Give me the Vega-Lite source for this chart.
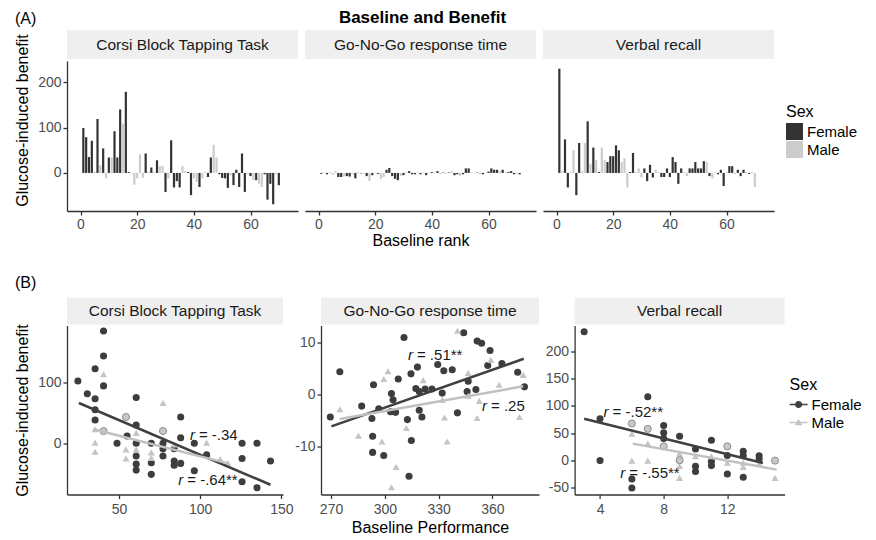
{
"$schema": "https://vega.github.io/schema/vega-lite/v6.json",
"autosize": {"type": "none"},
"padding": {"left": 67, "top": 30, "right": 809, "bottom": 510},
"background": "#ffffff",
"config": {
  "font": "Liberation Sans",
  "view": {"stroke": null},
  "axis": {"grid": false, "domainColor": "#333333", "domainWidth": 1.3, "tickColor": "#333333", "tickWidth": 1.3, "tickSize": 4, "labelFontSize": 14, "labelColor": "#4d4d4d", "labelPadding": 2, "titleFontSize": 16, "titleFontWeight": "normal", "titleColor": "#000000", "labelExpr": "'' + datum.value"},
  "legend": {"titleFontSize": 16, "titleFontWeight": "normal", "titleColor": "#000000", "labelFontSize": 15, "labelColor": "#000000"},
  "title": {"color": "#000000"}
},
"datasets": {
  "strips": [
    {"id":"A1","label":"Corsi Block Tapping Task"},{"id":"A2","label":"Go-No-Go response time"},{"id":"A3","label":"Verbal recall"},
    {"id":"B1","label":"Corsi Block Tapping Task"},{"id":"B2","label":"Go-No-Go response time"},{"id":"B3","label":"Verbal recall"}
  ],
  "bars": [
    {"task":"Corsi","rank":1,"benefit":99,"sex":"Female"},{"task":"Corsi","rank":2,"benefit":79,"sex":"Female"},{"task":"Corsi","rank":3,"benefit":35,"sex":"Female"},{"task":"Corsi","rank":4,"benefit":71,"sex":"Female"},{"task":"Corsi","rank":5,"benefit":3,"sex":"Male"},{"task":"Corsi","rank":6,"benefit":119,"sex":"Female"},{"task":"Corsi","rank":7,"benefit":17,"sex":"Male"},{"task":"Corsi","rank":8,"benefit":54,"sex":"Female"},{"task":"Corsi","rank":9,"benefit":-12,"sex":"Male"},{"task":"Corsi","rank":10,"benefit":34,"sex":"Female"},
    {"task":"Corsi","rank":11,"benefit":34,"sex":"Male"},{"task":"Corsi","rank":12,"benefit":92,"sex":"Female"},{"task":"Corsi","rank":13,"benefit":34,"sex":"Female"},{"task":"Corsi","rank":14,"benefit":140,"sex":"Female"},{"task":"Corsi","rank":15,"benefit":109,"sex":"Male"},{"task":"Corsi","rank":16,"benefit":179,"sex":"Female"},{"task":"Corsi","rank":17,"benefit":2,"sex":"Female"},{"task":"Corsi","rank":18,"benefit":-2,"sex":"Male"},{"task":"Corsi","rank":19,"benefit":-26,"sex":"Male"},{"task":"Corsi","rank":20,"benefit":-12,"sex":"Male"},
    {"task":"Corsi","rank":21,"benefit":41,"sex":"Male"},{"task":"Corsi","rank":22,"benefit":-11,"sex":"Male"},{"task":"Corsi","rank":23,"benefit":43,"sex":"Female"},{"task":"Corsi","rank":24,"benefit":3,"sex":"Male"},{"task":"Corsi","rank":25,"benefit":12,"sex":"Female"},{"task":"Corsi","rank":26,"benefit":2,"sex":"Male"},{"task":"Corsi","rank":27,"benefit":28,"sex":"Female"},{"task":"Corsi","rank":28,"benefit":15,"sex":"Male"},{"task":"Corsi","rank":29,"benefit":15,"sex":"Male"},{"task":"Corsi","rank":30,"benefit":-42,"sex":"Female"},
    {"task":"Corsi","rank":31,"benefit":-12,"sex":"Male"},{"task":"Corsi","rank":32,"benefit":72,"sex":"Female"},{"task":"Corsi","rank":33,"benefit":-32,"sex":"Female"},{"task":"Corsi","rank":34,"benefit":-18,"sex":"Female"},{"task":"Corsi","rank":35,"benefit":-32,"sex":"Female"},{"task":"Corsi","rank":36,"benefit":15,"sex":"Male"},{"task":"Corsi","rank":37,"benefit":4,"sex":"Male"},{"task":"Corsi","rank":38,"benefit":2,"sex":"Female"},{"task":"Corsi","rank":39,"benefit":-49,"sex":"Female"},{"task":"Corsi","rank":40,"benefit":-12,"sex":"Male"},
    {"task":"Corsi","rank":41,"benefit":-20,"sex":"Male"},{"task":"Corsi","rank":42,"benefit":-31,"sex":"Female"},{"task":"Corsi","rank":43,"benefit":-12,"sex":"Male"},{"task":"Corsi","rank":44,"benefit":2,"sex":"Male"},{"task":"Corsi","rank":45,"benefit":-9,"sex":"Female"},{"task":"Corsi","rank":46,"benefit":34,"sex":"Female"},{"task":"Corsi","rank":47,"benefit":62,"sex":"Male"},{"task":"Corsi","rank":48,"benefit":34,"sex":"Male"},{"task":"Corsi","rank":49,"benefit":-3,"sex":"Female"},{"task":"Corsi","rank":50,"benefit":-11,"sex":"Female"},
    {"task":"Corsi","rank":51,"benefit":-12,"sex":"Female"},{"task":"Corsi","rank":52,"benefit":-33,"sex":"Female"},{"task":"Corsi","rank":53,"benefit":-5,"sex":"Male"},{"task":"Corsi","rank":54,"benefit":-27,"sex":"Female"},{"task":"Corsi","rank":55,"benefit":7,"sex":"Female"},{"task":"Corsi","rank":56,"benefit":-31,"sex":"Female"},{"task":"Corsi","rank":57,"benefit":43,"sex":"Female"},{"task":"Corsi","rank":58,"benefit":-42,"sex":"Female"},{"task":"Corsi","rank":59,"benefit":-3,"sex":"Male"},{"task":"Corsi","rank":60,"benefit":-7,"sex":"Female"},
    {"task":"Corsi","rank":61,"benefit":-16,"sex":"Male"},{"task":"Corsi","rank":62,"benefit":-16,"sex":"Female"},{"task":"Corsi","rank":63,"benefit":-24,"sex":"Male"},{"task":"Corsi","rank":64,"benefit":-31,"sex":"Male"},{"task":"Corsi","rank":65,"benefit":-3,"sex":"Female"},{"task":"Corsi","rank":66,"benefit":-59,"sex":"Female"},{"task":"Corsi","rank":67,"benefit":-24,"sex":"Female"},{"task":"Corsi","rank":68,"benefit":-69,"sex":"Female"},{"task":"Corsi","rank":69,"benefit":-3,"sex":"Male"},{"task":"Corsi","rank":70,"benefit":-27,"sex":"Female"},
    {"task":"GoNoGo","rank":1,"benefit":-2,"sex":"Female"},{"task":"GoNoGo","rank":2,"benefit":1,"sex":"Male"},{"task":"GoNoGo","rank":3,"benefit":-3,"sex":"Female"},{"task":"GoNoGo","rank":4,"benefit":2,"sex":"Male"},{"task":"GoNoGo","rank":5,"benefit":-4,"sex":"Male"},{"task":"GoNoGo","rank":6,"benefit":4,"sex":"Male"},{"task":"GoNoGo","rank":7,"benefit":-9,"sex":"Female"},{"task":"GoNoGo","rank":8,"benefit":-9,"sex":"Female"},{"task":"GoNoGo","rank":9,"benefit":-8,"sex":"Male"},{"task":"GoNoGo","rank":10,"benefit":-7,"sex":"Female"},
    {"task":"GoNoGo","rank":11,"benefit":-8,"sex":"Female"},{"task":"GoNoGo","rank":12,"benefit":-3,"sex":"Male"},{"task":"GoNoGo","rank":13,"benefit":-12,"sex":"Female"},{"task":"GoNoGo","rank":14,"benefit":2,"sex":"Male"},{"task":"GoNoGo","rank":15,"benefit":-1,"sex":"Female"},{"task":"GoNoGo","rank":16,"benefit":-2,"sex":"Male"},{"task":"GoNoGo","rank":17,"benefit":-7,"sex":"Female"},{"task":"GoNoGo","rank":18,"benefit":-18,"sex":"Male"},{"task":"GoNoGo","rank":19,"benefit":-5,"sex":"Female"},{"task":"GoNoGo","rank":20,"benefit":1,"sex":"Male"},
    {"task":"GoNoGo","rank":21,"benefit":-2,"sex":"Female"},{"task":"GoNoGo","rank":22,"benefit":-13,"sex":"Male"},{"task":"GoNoGo","rank":23,"benefit":-9,"sex":"Male"},{"task":"GoNoGo","rank":24,"benefit":7,"sex":"Female"},{"task":"GoNoGo","rank":25,"benefit":11,"sex":"Female"},{"task":"GoNoGo","rank":26,"benefit":-7,"sex":"Female"},{"task":"GoNoGo","rank":27,"benefit":-13,"sex":"Female"},{"task":"GoNoGo","rank":28,"benefit":-16,"sex":"Female"},{"task":"GoNoGo","rank":29,"benefit":-7,"sex":"Male"},{"task":"GoNoGo","rank":30,"benefit":-5,"sex":"Female"},
    {"task":"GoNoGo","rank":31,"benefit":2,"sex":"Male"},{"task":"GoNoGo","rank":32,"benefit":4,"sex":"Female"},{"task":"GoNoGo","rank":33,"benefit":-3,"sex":"Female"},{"task":"GoNoGo","rank":34,"benefit":-3,"sex":"Female"},{"task":"GoNoGo","rank":35,"benefit":1,"sex":"Male"},{"task":"GoNoGo","rank":36,"benefit":-3,"sex":"Female"},{"task":"GoNoGo","rank":37,"benefit":1,"sex":"Male"},{"task":"GoNoGo","rank":38,"benefit":-5,"sex":"Female"},{"task":"GoNoGo","rank":39,"benefit":1,"sex":"Male"},{"task":"GoNoGo","rank":40,"benefit":2,"sex":"Female"},
    {"task":"GoNoGo","rank":41,"benefit":-1,"sex":"Male"},{"task":"GoNoGo","rank":42,"benefit":4,"sex":"Female"},{"task":"GoNoGo","rank":43,"benefit":-3,"sex":"Male"},{"task":"GoNoGo","rank":44,"benefit":1,"sex":"Female"},{"task":"GoNoGo","rank":45,"benefit":-2,"sex":"Male"},{"task":"GoNoGo","rank":46,"benefit":1,"sex":"Female"},{"task":"GoNoGo","rank":47,"benefit":4,"sex":"Male"},{"task":"GoNoGo","rank":48,"benefit":-5,"sex":"Female"},{"task":"GoNoGo","rank":49,"benefit":-3,"sex":"Female"},{"task":"GoNoGo","rank":50,"benefit":-7,"sex":"Male"},
    {"task":"GoNoGo","rank":51,"benefit":-3,"sex":"Female"},{"task":"GoNoGo","rank":52,"benefit":10,"sex":"Female"},{"task":"GoNoGo","rank":53,"benefit":10,"sex":"Female"},{"task":"GoNoGo","rank":54,"benefit":1,"sex":"Male"},{"task":"GoNoGo","rank":55,"benefit":-1,"sex":"Male"},{"task":"GoNoGo","rank":56,"benefit":1,"sex":"Female"},{"task":"GoNoGo","rank":57,"benefit":-3,"sex":"Male"},{"task":"GoNoGo","rank":58,"benefit":-3,"sex":"Female"},{"task":"GoNoGo","rank":59,"benefit":1,"sex":"Male"},{"task":"GoNoGo","rank":60,"benefit":3,"sex":"Female"},
    {"task":"GoNoGo","rank":61,"benefit":10,"sex":"Female"},{"task":"GoNoGo","rank":62,"benefit":7,"sex":"Female"},{"task":"GoNoGo","rank":63,"benefit":7,"sex":"Female"},{"task":"GoNoGo","rank":64,"benefit":4,"sex":"Male"},{"task":"GoNoGo","rank":65,"benefit":7,"sex":"Female"},{"task":"GoNoGo","rank":66,"benefit":1,"sex":"Male"},{"task":"GoNoGo","rank":67,"benefit":2,"sex":"Female"},{"task":"GoNoGo","rank":68,"benefit":4,"sex":"Female"},{"task":"GoNoGo","rank":69,"benefit":-3,"sex":"Female"},{"task":"GoNoGo","rank":70,"benefit":-2,"sex":"Male"},{"task":"GoNoGo","rank":71,"benefit":-3,"sex":"Female"},
    {"task":"Verbal","rank":1,"benefit":230,"sex":"Female"},{"task":"Verbal","rank":2,"benefit":3,"sex":"Male"},{"task":"Verbal","rank":3,"benefit":74,"sex":"Female"},{"task":"Verbal","rank":4,"benefit":-32,"sex":"Female"},{"task":"Verbal","rank":5,"benefit":2,"sex":"Male"},{"task":"Verbal","rank":6,"benefit":50,"sex":"Male"},{"task":"Verbal","rank":7,"benefit":-49,"sex":"Female"},{"task":"Verbal","rank":8,"benefit":66,"sex":"Female"},{"task":"Verbal","rank":9,"benefit":3,"sex":"Male"},{"task":"Verbal","rank":10,"benefit":66,"sex":"Male"},
    {"task":"Verbal","rank":11,"benefit":114,"sex":"Female"},{"task":"Verbal","rank":12,"benefit":20,"sex":"Male"},{"task":"Verbal","rank":13,"benefit":56,"sex":"Female"},{"task":"Verbal","rank":14,"benefit":28,"sex":"Male"},{"task":"Verbal","rank":15,"benefit":2,"sex":"Female"},{"task":"Verbal","rank":16,"benefit":56,"sex":"Male"},{"task":"Verbal","rank":17,"benefit":28,"sex":"Male"},{"task":"Verbal","rank":18,"benefit":24,"sex":"Female"},{"task":"Verbal","rank":19,"benefit":37,"sex":"Female"},{"task":"Verbal","rank":20,"benefit":37,"sex":"Female"},
    {"task":"Verbal","rank":21,"benefit":61,"sex":"Female"},{"task":"Verbal","rank":22,"benefit":50,"sex":"Female"},{"task":"Verbal","rank":23,"benefit":24,"sex":"Male"},{"task":"Verbal","rank":24,"benefit":33,"sex":"Male"},{"task":"Verbal","rank":25,"benefit":-32,"sex":"Male"},{"task":"Verbal","rank":26,"benefit":2,"sex":"Female"},{"task":"Verbal","rank":27,"benefit":44,"sex":"Female"},{"task":"Verbal","rank":28,"benefit":2,"sex":"Male"},{"task":"Verbal","rank":29,"benefit":10,"sex":"Male"},{"task":"Verbal","rank":30,"benefit":-10,"sex":"Male"},
    {"task":"Verbal","rank":31,"benefit":10,"sex":"Female"},{"task":"Verbal","rank":32,"benefit":-18,"sex":"Female"},{"task":"Verbal","rank":33,"benefit":18,"sex":"Female"},{"task":"Verbal","rank":34,"benefit":-10,"sex":"Female"},{"task":"Verbal","rank":35,"benefit":7,"sex":"Male"},{"task":"Verbal","rank":36,"benefit":2,"sex":"Male"},{"task":"Verbal","rank":37,"benefit":-9,"sex":"Female"},{"task":"Verbal","rank":38,"benefit":-9,"sex":"Female"},{"task":"Verbal","rank":39,"benefit":10,"sex":"Female"},{"task":"Verbal","rank":40,"benefit":-9,"sex":"Female"},
    {"task":"Verbal","rank":41,"benefit":35,"sex":"Female"},{"task":"Verbal","rank":42,"benefit":24,"sex":"Female"},{"task":"Verbal","rank":43,"benefit":-24,"sex":"Female"},{"task":"Verbal","rank":44,"benefit":10,"sex":"Female"},{"task":"Verbal","rank":45,"benefit":2,"sex":"Male"},{"task":"Verbal","rank":46,"benefit":-7,"sex":"Male"},{"task":"Verbal","rank":47,"benefit":10,"sex":"Female"},{"task":"Verbal","rank":48,"benefit":10,"sex":"Female"},{"task":"Verbal","rank":49,"benefit":24,"sex":"Female"},{"task":"Verbal","rank":50,"benefit":10,"sex":"Female"},
    {"task":"Verbal","rank":51,"benefit":10,"sex":"Female"},{"task":"Verbal","rank":52,"benefit":26,"sex":"Female"},{"task":"Verbal","rank":53,"benefit":24,"sex":"Male"},{"task":"Verbal","rank":54,"benefit":-7,"sex":"Female"},{"task":"Verbal","rank":55,"benefit":-12,"sex":"Male"},{"task":"Verbal","rank":56,"benefit":2,"sex":"Male"},{"task":"Verbal","rank":57,"benefit":-3,"sex":"Female"},{"task":"Verbal","rank":58,"benefit":7,"sex":"Female"},{"task":"Verbal","rank":59,"benefit":-29,"sex":"Female"},{"task":"Verbal","rank":60,"benefit":2,"sex":"Male"},
    {"task":"Verbal","rank":61,"benefit":15,"sex":"Female"},{"task":"Verbal","rank":62,"benefit":15,"sex":"Female"},{"task":"Verbal","rank":63,"benefit":-3,"sex":"Male"},{"task":"Verbal","rank":64,"benefit":7,"sex":"Female"},{"task":"Verbal","rank":65,"benefit":-7,"sex":"Female"},{"task":"Verbal","rank":66,"benefit":7,"sex":"Female"},{"task":"Verbal","rank":67,"benefit":2,"sex":"Male"},{"task":"Verbal","rank":68,"benefit":-2,"sex":"Female"},{"task":"Verbal","rank":69,"benefit":2,"sex":"Male"},{"task":"Verbal","rank":70,"benefit":-31,"sex":"Male"}
  ],
  "points": [
    {"task":"Corsi","baseline":24.7,"benefit":102,"sex":"Female"},{"task":"Corsi","baseline":30.5,"benefit":81,"sex":"Female"},{"task":"Corsi","baseline":35.3,"benefit":73,"sex":"Female"},{"task":"Corsi","baseline":35.3,"benefit":55,"sex":"Female"},{"task":"Corsi","baseline":35.3,"benefit":38,"sex":"Female"},{"task":"Corsi","baseline":35.3,"benefit":122,"sex":"Female"},{"task":"Corsi","baseline":40.5,"benefit":184,"sex":"Female"},{"task":"Corsi","baseline":40.5,"benefit":143,"sex":"Female"},{"task":"Corsi","baseline":40.5,"benefit":94,"sex":"Female"},{"task":"Corsi","baseline":60.6,"benefit":75,"sex":"Female"},
    {"task":"Corsi","baseline":60.6,"benefit":30,"sex":"Female"},{"task":"Corsi","baseline":60.6,"benefit":0,"sex":"Female"},{"task":"Corsi","baseline":60.6,"benefit":-21,"sex":"Female"},{"task":"Corsi","baseline":60.6,"benefit":-34,"sex":"Female"},{"task":"Corsi","baseline":60.6,"benefit":-44,"sex":"Female"},{"task":"Corsi","baseline":48.8,"benefit":0,"sex":"Female"},{"task":"Corsi","baseline":55,"benefit":12,"sex":"Female"},{"task":"Corsi","baseline":69.9,"benefit":0,"sex":"Female"},{"task":"Corsi","baseline":69.9,"benefit":-32,"sex":"Female"},{"task":"Corsi","baseline":69.9,"benefit":-51,"sex":"Female"},
    {"task":"Corsi","baseline":77.1,"benefit":-9,"sex":"Female"},{"task":"Corsi","baseline":77.1,"benefit":-21,"sex":"Female"},{"task":"Corsi","baseline":77.1,"benefit":0,"sex":"Female"},{"task":"Corsi","baseline":84,"benefit":-9,"sex":"Female"},{"task":"Corsi","baseline":84,"benefit":-29,"sex":"Female"},{"task":"Corsi","baseline":84,"benefit":-36,"sex":"Female"},{"task":"Corsi","baseline":88,"benefit":43,"sex":"Female"},{"task":"Corsi","baseline":88,"benefit":9,"sex":"Female"},{"task":"Corsi","baseline":88,"benefit":-33,"sex":"Female"},{"task":"Corsi","baseline":96.4,"benefit":0,"sex":"Female"},
    {"task":"Corsi","baseline":96.4,"benefit":-45,"sex":"Female"},{"task":"Corsi","baseline":104,"benefit":-19,"sex":"Female"},{"task":"Corsi","baseline":125.8,"benefit":0,"sex":"Female"},{"task":"Corsi","baseline":125.8,"benefit":-25,"sex":"Female"},{"task":"Corsi","baseline":125.8,"benefit":-63,"sex":"Female"},{"task":"Corsi","baseline":135,"benefit":0,"sex":"Female"},{"task":"Corsi","baseline":135,"benefit":-73,"sex":"Female"},{"task":"Corsi","baseline":143.3,"benefit":-29,"sex":"Female"},
    {"task":"Corsi","baseline":40.5,"benefit":113,"sex":"Male"},{"task":"Corsi","baseline":35.3,"benefit":23,"sex":"Male"},{"task":"Corsi","baseline":35.3,"benefit":1,"sex":"Male"},{"task":"Corsi","baseline":35.3,"benefit":-14,"sex":"Male"},{"task":"Corsi","baseline":54.3,"benefit":-10,"sex":"Male"},{"task":"Corsi","baseline":54.3,"benefit":-25,"sex":"Male"},{"task":"Corsi","baseline":60.6,"benefit":17,"sex":"Male"},{"task":"Corsi","baseline":60.6,"benefit":-10,"sex":"Male"},{"task":"Corsi","baseline":69.9,"benefit":-15,"sex":"Male"},{"task":"Corsi","baseline":69.9,"benefit":-24,"sex":"Male"},
    {"task":"Corsi","baseline":77.1,"benefit":66,"sex":"Male"},{"task":"Corsi","baseline":84.3,"benefit":-2,"sex":"Male"},{"task":"Corsi","baseline":104,"benefit":1,"sex":"Male"},{"task":"Corsi","baseline":112.3,"benefit":-26,"sex":"Male"},{"task":"Corsi","baseline":117,"benefit":-32,"sex":"Male"},
    {"task":"Corsi","baseline":54.3,"benefit":43,"sex":"Male","ov":true},{"task":"Corsi","baseline":40.5,"benefit":20,"sex":"Male","ov":true},{"task":"Corsi","baseline":77.1,"benefit":20,"sex":"Male","ov":true},
    {"task":"GoNoGo","baseline":269.6,"benefit":-4.3,"sex":"Female"},{"task":"GoNoGo","baseline":287.1,"benefit":-2.2,"sex":"Female"},{"task":"GoNoGo","baseline":274.9,"benefit":4.4,"sex":"Female"},{"task":"GoNoGo","baseline":292.8,"benefit":-4.6,"sex":"Female"},{"task":"GoNoGo","baseline":293.7,"benefit":1.9,"sex":"Female"},{"task":"GoNoGo","baseline":293.2,"benefit":-8.0,"sex":"Female"},{"task":"GoNoGo","baseline":293.2,"benefit":-11.1,"sex":"Female"},{"task":"GoNoGo","baseline":296.6,"benefit":-2.7,"sex":"Female"},{"task":"GoNoGo","baseline":299.4,"benefit":-11.7,"sex":"Female"},{"task":"GoNoGo","baseline":303.2,"benefit":-3.3,"sex":"Female"},
    {"task":"GoNoGo","baseline":303.7,"benefit":0.2,"sex":"Female"},{"task":"GoNoGo","baseline":304.6,"benefit":-1.0,"sex":"Female"},{"task":"GoNoGo","baseline":306.0,"benefit":-3.4,"sex":"Female"},{"task":"GoNoGo","baseline":307.5,"benefit":3.0,"sex":"Female"},{"task":"GoNoGo","baseline":310.7,"benefit":11.0,"sex":"Female"},{"task":"GoNoGo","baseline":312.6,"benefit":-4.8,"sex":"Female"},{"task":"GoNoGo","baseline":313.5,"benefit":-15.7,"sex":"Female"},{"task":"GoNoGo","baseline":314.6,"benefit":4.0,"sex":"Female"},{"task":"GoNoGo","baseline":314.8,"benefit":-8.8,"sex":"Female"},{"task":"GoNoGo","baseline":317.3,"benefit":1.2,"sex":"Female"},
    {"task":"GoNoGo","baseline":318.2,"benefit":5.3,"sex":"Female"},{"task":"GoNoGo","baseline":319.2,"benefit":0.6,"sex":"Female"},{"task":"GoNoGo","baseline":319.2,"benefit":-3.0,"sex":"Female"},{"task":"GoNoGo","baseline":320.7,"benefit":-4.3,"sex":"Female"},{"task":"GoNoGo","baseline":322.5,"benefit":1.1,"sex":"Female"},{"task":"GoNoGo","baseline":326.3,"benefit":1.1,"sex":"Female"},{"task":"GoNoGo","baseline":329.5,"benefit":5.8,"sex":"Female"},{"task":"GoNoGo","baseline":332.0,"benefit":0.3,"sex":"Female"},{"task":"GoNoGo","baseline":332.9,"benefit":4.6,"sex":"Female"},{"task":"GoNoGo","baseline":337.6,"benefit":4.8,"sex":"Female"},
    {"task":"GoNoGo","baseline":340.5,"benefit":-3.5,"sex":"Female"},{"task":"GoNoGo","baseline":344.0,"benefit":11.9,"sex":"Female"},{"task":"GoNoGo","baseline":346.5,"benefit":2.6,"sex":"Female"},{"task":"GoNoGo","baseline":345.9,"benefit":0.6,"sex":"Female"},{"task":"GoNoGo","baseline":350.8,"benefit":1.0,"sex":"Female"},{"task":"GoNoGo","baseline":351.5,"benefit":10.3,"sex":"Female"},{"task":"GoNoGo","baseline":354.0,"benefit":9.9,"sex":"Female"},{"task":"GoNoGo","baseline":358.7,"benefit":8.5,"sex":"Female"},{"task":"GoNoGo","baseline":357.4,"benefit":5.6,"sex":"Female"},{"task":"GoNoGo","baseline":365.3,"benefit":6.0,"sex":"Female"},
    {"task":"GoNoGo","baseline":374.1,"benefit":4.3,"sex":"Female"},{"task":"GoNoGo","baseline":377.9,"benefit":1.5,"sex":"Female"},
    {"task":"GoNoGo","baseline":274.9,"benefit":-2.8,"sex":"Male"},{"task":"GoNoGo","baseline":285.3,"benefit":-7.9,"sex":"Male"},{"task":"GoNoGo","baseline":298.4,"benefit":-9.0,"sex":"Male"},{"task":"GoNoGo","baseline":299.4,"benefit":3.0,"sex":"Male"},{"task":"GoNoGo","baseline":301.8,"benefit":4.5,"sex":"Male"},{"task":"GoNoGo","baseline":303.7,"benefit":-17.8,"sex":"Male"},{"task":"GoNoGo","baseline":306.3,"benefit":-13.9,"sex":"Male"},{"task":"GoNoGo","baseline":312.0,"benefit":-6.4,"sex":"Male"},{"task":"GoNoGo","baseline":321.4,"benefit":2.8,"sex":"Male"},{"task":"GoNoGo","baseline":332.0,"benefit":-1.0,"sex":"Male"},
    {"task":"GoNoGo","baseline":333.3,"benefit":-4.4,"sex":"Male"},{"task":"GoNoGo","baseline":334.8,"benefit":-9.0,"sex":"Male"},{"task":"GoNoGo","baseline":340.5,"benefit":12.3,"sex":"Male"},{"task":"GoNoGo","baseline":346.5,"benefit":4.2,"sex":"Male"},{"task":"GoNoGo","baseline":346.5,"benefit":-0.2,"sex":"Male"},{"task":"GoNoGo","baseline":352.7,"benefit":-1.2,"sex":"Male"},{"task":"GoNoGo","baseline":351.5,"benefit":-4.5,"sex":"Male"},{"task":"GoNoGo","baseline":359.1,"benefit":6.7,"sex":"Male"},{"task":"GoNoGo","baseline":363.8,"benefit":1.9,"sex":"Male"},{"task":"GoNoGo","baseline":377.2,"benefit":3.8,"sex":"Male"},
    {"task":"GoNoGo","baseline":375.1,"benefit":-4.3,"sex":"Male"},
    {"task":"Verbal","baseline":3,"benefit":235.7,"sex":"Female"},{"task":"Verbal","baseline":4,"benefit":76.4,"sex":"Female"},{"task":"Verbal","baseline":4,"benefit":0,"sex":"Female"},{"task":"Verbal","baseline":6,"benefit":-33.6,"sex":"Female"},{"task":"Verbal","baseline":6,"benefit":-50,"sex":"Female"},{"task":"Verbal","baseline":7,"benefit":116.6,"sex":"Female"},{"task":"Verbal","baseline":8,"benefit":64,"sex":"Female"},{"task":"Verbal","baseline":8,"benefit":50.7,"sex":"Female"},{"task":"Verbal","baseline":8,"benefit":40.3,"sex":"Female"},{"task":"Verbal","baseline":9,"benefit":44.6,"sex":"Female"},
    {"task":"Verbal","baseline":10,"benefit":21.3,"sex":"Female"},{"task":"Verbal","baseline":10,"benefit":-10.4,"sex":"Female"},{"task":"Verbal","baseline":10,"benefit":-20,"sex":"Female"},{"task":"Verbal","baseline":11,"benefit":37.2,"sex":"Female"},{"task":"Verbal","baseline":11,"benefit":-1.2,"sex":"Female"},{"task":"Verbal","baseline":11,"benefit":-9.2,"sex":"Female"},{"task":"Verbal","baseline":12,"benefit":9.2,"sex":"Female"},{"task":"Verbal","baseline":12,"benefit":-24.4,"sex":"Female"},{"task":"Verbal","baseline":13,"benefit":17,"sex":"Female"},{"task":"Verbal","baseline":13,"benefit":9,"sex":"Female"},
    {"task":"Verbal","baseline":13,"benefit":-30.5,"sex":"Female"},{"task":"Verbal","baseline":14,"benefit":9,"sex":"Female"},{"task":"Verbal","baseline":14,"benefit":3,"sex":"Female"},
    {"task":"Verbal","baseline":6,"benefit":49,"sex":"Male"},{"task":"Verbal","baseline":6,"benefit":0,"sex":"Male"},{"task":"Verbal","baseline":7,"benefit":31,"sex":"Male"},{"task":"Verbal","baseline":7,"benefit":0,"sex":"Male"},{"task":"Verbal","baseline":8,"benefit":27,"sex":"Male"},{"task":"Verbal","baseline":9,"benefit":12.8,"sex":"Male"},{"task":"Verbal","baseline":9,"benefit":-10,"sex":"Male"},{"task":"Verbal","baseline":9,"benefit":-31.7,"sex":"Male"},{"task":"Verbal","baseline":10,"benefit":8,"sex":"Male"},{"task":"Verbal","baseline":11,"benefit":8,"sex":"Male"},
    {"task":"Verbal","baseline":12,"benefit":-4,"sex":"Male"},{"task":"Verbal","baseline":13,"benefit":-4,"sex":"Male"},{"task":"Verbal","baseline":13,"benefit":-11.6,"sex":"Male"},{"task":"Verbal","baseline":14,"benefit":-5.5,"sex":"Male"},{"task":"Verbal","baseline":15,"benefit":-31.7,"sex":"Male"},
    {"task":"Verbal","baseline":6,"benefit":67.8,"sex":"Male","ov":true},{"task":"Verbal","baseline":7,"benefit":58,"sex":"Male","ov":true},{"task":"Verbal","baseline":8,"benefit":26,"sex":"Male","ov":true},{"task":"Verbal","baseline":9,"benefit":0.6,"sex":"Male","ov":true},{"task":"Verbal","baseline":12,"benefit":26,"sex":"Male","ov":true},{"task":"Verbal","baseline":15,"benefit":0,"sex":"Male","ov":true}
  ],
  "fits": [
    {"task":"Corsi","sex":"Female","baseline":25.3,"benefit":66},{"task":"Corsi","sex":"Female","baseline":143.3,"benefit":-68},
    {"task":"Corsi","sex":"Male","baseline":34.3,"benefit":23},{"task":"Corsi","sex":"Male","baseline":117,"benefit":-33},
    {"task":"GoNoGo","sex":"Female","baseline":270.2,"benefit":-6.1},{"task":"GoNoGo","sex":"Female","baseline":377.5,"benefit":6.9},
    {"task":"GoNoGo","sex":"Male","baseline":274.9,"benefit":-4.7},{"task":"GoNoGo","sex":"Male","baseline":377.2,"benefit":1.6},
    {"task":"Verbal","sex":"Female","baseline":3.0,"benefit":76.4},{"task":"Verbal","sex":"Female","baseline":14.24,"benefit":-4.3},
    {"task":"Verbal","sex":"Male","baseline":6.05,"benefit":31},{"task":"Verbal","sex":"Male","baseline":15.1,"benefit":-16.5}
  ],
  "labels": [
    {"task":"Corsi","baseline":98,"benefit":14.3,"stat":"= -.34"},
    {"task":"Corsi","baseline":90.8,"benefit":-59.5,"stat":"= -.64**"},
    {"task":"GoNoGo","baseline":316.8,"benefit":7.7,"stat":"= .51**"},
    {"task":"GoNoGo","baseline":358.1,"benefit":-2.2,"stat":"= .25"},
    {"task":"Verbal","baseline":4.66,"benefit":88.5,"stat":"= -.52**"},
    {"task":"Verbal","baseline":5.71,"benefit":-22.3,"stat":"= -.55**"}
  ]
},
"spacing": 26.5,
"resolve": {"scale": {"x": "independent", "y": "independent", "color": "independent", "shape": "independent"}, "axis": {"x": "independent", "y": "independent"}, "legend": {"color": "independent", "shape": "independent"}},
"vconcat": [
  {
    "spacing": 7,
    "resolve": {"scale": {"x": "independent", "y": "independent", "color": "independent", "shape": "independent"}, "axis": {"x": "independent", "y": "independent"}, "legend": {"color": "independent", "shape": "independent"}},
    "hconcat": [
      {
        "bounds": "flush", "spacing": 2,
        "resolve": {"scale": {"x": "independent", "y": "independent", "color": "independent"}, "axis": {"x": "independent", "y": "independent"}, "legend": {"color": "independent"}},
        "vconcat": [
          {
            "title": {"text": "(A)", "anchor": "start", "frame": "group", "dx": -52, "dy": 17, "offset": 12.5, "baseline": "middle", "fontSize": 16, "fontWeight": "normal"},
            "data": {"name": "strips"}, "transform": [{"filter": "datum.id === 'A1'"}],
            "width": 231, "height": 29,
            "view": {"fill": "#efefef", "stroke": null},
            "mark": {"type": "text", "align": "center", "baseline": "middle", "fontSize": 15.5, "color": "#1a1a1a"},
            "encoding": {"text": {"field": "label"}, "x": {"datum": 0.5, "type": "quantitative", "scale": {"domain": [0, 1]}, "axis": null}, "y": {"datum": 0.5, "type": "quantitative", "scale": {"domain": [0, 1]}, "axis": null}}
          },
          {
            "data": {"name": "bars"},
            "transform": [{"filter": "datum.task === 'Corsi'"}],
            "width": 231, "height": 150,
            "mark": {"type": "bar", "width": 2.2, "orient": "vertical"},
            "encoding": {
              "x": {"field": "rank", "type": "quantitative", "scale": {"domain": [-3, 75], "nice": false, "zero": false}, "axis": {"values": [0, 20, 40, 60], "title": null}},
              "y": {"field": "benefit", "type": "quantitative", "scale": {"domain": [-84, 247], "nice": false, "zero": false}, "axis": {"values": [0, 100, 200], "title": "Glucose-induced benefit", "titleX": -45, "titleY": 59, "titleBaseline": "middle", "titleAlign": "center", "titleAngle": -90}},
              "y2": {"datum": 0},
              "color": {"condition": {"test": "datum.sex === 'Female'", "value": "#333333"}, "value": "#cccccc"}
            }
          }
        ]
      },
      {
        "bounds": "flush", "spacing": 2,
        "resolve": {"scale": {"x": "independent", "y": "independent", "color": "independent"}, "axis": {"x": "independent", "y": "independent"}, "legend": {"color": "independent"}},
        "vconcat": [
          {
            "title": {"text": "Baseline and Benefit", "anchor": "middle", "frame": "group", "dx": 2, "dy": 17, "offset": 12, "baseline": "middle", "fontSize": 17, "fontWeight": "bold"},
            "data": {"name": "strips"}, "transform": [{"filter": "datum.id === 'A2'"}],
            "width": 231, "height": 29,
            "view": {"fill": "#efefef", "stroke": null},
            "mark": {"type": "text", "align": "center", "baseline": "middle", "fontSize": 15.5, "color": "#1a1a1a"},
            "encoding": {"text": {"field": "label"}, "x": {"datum": 0.5, "type": "quantitative", "scale": {"domain": [0, 1]}, "axis": null}, "y": {"datum": 0.5, "type": "quantitative", "scale": {"domain": [0, 1]}, "axis": null}}
          },
          {
            "data": {"name": "bars"},
            "transform": [{"filter": "datum.task === 'GoNoGo'"}],
            "width": 231, "height": 150,
            "mark": {"type": "bar", "width": 2.2, "orient": "vertical"},
            "encoding": {
              "x": {"field": "rank", "type": "quantitative", "scale": {"domain": [-3, 75], "nice": false, "zero": false}, "axis": {"values": [0, 20, 40, 60], "title": "Baseline rank", "titleY": 29, "titleBaseline": "middle"}},
              "y": {"field": "benefit", "type": "quantitative", "scale": {"domain": [-84, 247], "nice": false, "zero": false}, "axis": null},
              "y2": {"datum": 0},
              "color": {"condition": {"test": "datum.sex === 'Female'", "value": "#333333"}, "value": "#cccccc"}
            }
          }
        ]
      },
      {
        "bounds": "flush", "spacing": 2,
        "resolve": {"scale": {"x": "independent", "y": "independent", "color": "independent"}, "axis": {"x": "independent", "y": "independent"}, "legend": {"color": "independent"}},
        "vconcat": [
          {
            "title": {"text": " ", "anchor": "middle", "frame": "group", "dy": 17, "offset": 12, "baseline": "middle", "fontSize": 17},
            "data": {"name": "strips"}, "transform": [{"filter": "datum.id === 'A3'"}],
            "width": 231, "height": 29,
            "view": {"fill": "#efefef", "stroke": null},
            "mark": {"type": "text", "align": "center", "baseline": "middle", "fontSize": 15.5, "color": "#1a1a1a"},
            "encoding": {"text": {"field": "label"}, "x": {"datum": 0.5, "type": "quantitative", "scale": {"domain": [0, 1]}, "axis": null}, "y": {"datum": 0.5, "type": "quantitative", "scale": {"domain": [0, 1]}, "axis": null}}
          },
          {
            "data": {"name": "bars"},
            "transform": [{"filter": "datum.task === 'Verbal'"}],
            "width": 231, "height": 150,
            "mark": {"type": "bar", "width": 2.2, "orient": "vertical"},
            "encoding": {
              "x": {"field": "rank", "type": "quantitative", "scale": {"domain": [-3, 75], "nice": false, "zero": false}, "axis": {"values": [0, 20, 40, 60], "title": null}},
              "y": {"field": "benefit", "type": "quantitative", "scale": {"domain": [-84, 247], "nice": false, "zero": false}, "axis": null},
              "y2": {"datum": 0},
              "color": {"field": "sex", "type": "nominal", "scale": {"domain": ["Female", "Male"], "range": ["#333333", "#cccccc"]},
                "legend": {"title": "Sex", "orient": "none", "legendX": 243, "legendY": 43, "symbolType": "square", "symbolSize": 289, "symbolStrokeWidth": 0, "rowPadding": 1, "titlePadding": 3, "labelOffset": 4}}
            }
          }
        ]
      }
    ]
  },
  {
    "spacing": 0,
    "resolve": {"scale": {"x": "independent", "y": "independent", "color": "independent", "shape": "independent"}, "axis": {"x": "independent", "y": "independent"}, "legend": {"color": "independent", "shape": "independent"}},
    "hconcat": [
      {
        "bounds": "flush", "spacing": 1,
        "resolve": {"scale": {"x": "independent", "y": "independent", "color": "independent", "shape": "independent"}, "axis": {"x": "independent", "y": "independent"}, "legend": {"color": "independent", "shape": "independent"}},
        "vconcat": [
          {
            "title": {"text": "(B)", "anchor": "start", "frame": "group", "dx": -52, "dy": 17, "offset": 15.5, "baseline": "middle", "fontSize": 16, "fontWeight": "normal"},
            "data": {"name": "strips"}, "transform": [{"filter": "datum.id === 'B1'"}],
            "width": 216, "height": 27,
            "view": {"fill": "#efefef", "stroke": null},
            "mark": {"type": "text", "align": "center", "baseline": "middle", "fontSize": 15.5, "color": "#1a1a1a"},
            "encoding": {"text": {"field": "label"}, "x": {"datum": 0.5, "type": "quantitative", "scale": {"domain": [0, 1]}, "axis": null}, "y": {"datum": 0.5, "type": "quantitative", "scale": {"domain": [0, 1]}, "axis": null}}
          },
          {
            "width": 216, "height": 169,
            "encoding": {
              "x": {"field": "baseline", "type": "quantitative", "scale": {"domain": [18, 151], "nice": false, "zero": false}, "axis": {"values": [50, 100, 150], "title": null, "labelPadding": 4}},
              "y": {"field": "benefit", "type": "quantitative", "scale": {"domain": [-84, 193], "nice": false, "zero": false}, "axis": {"values": [0, 100], "title": "Glucose-induced benefit", "titleX": -45, "titleBaseline": "middle", "titleAlign": "center", "titleAngle": -90}}
            },
            "layer": [
              {"data": {"name": "points"}, "transform": [{"filter": "datum.task === 'Corsi' && !datum.ov"}],
               "mark": {"type": "point", "filled": true, "size": 50, "opacity": 1},
               "encoding": {"color": {"condition": {"test": "datum.sex === 'Female'", "value": "#3d3d3d"}, "value": "#c4c4c4"}, "shape": {"condition": {"test": "datum.sex === 'Female'", "value": "circle"}, "value": "triangle-up"}}},
              {"data": {"name": "points"}, "transform": [{"filter": "datum.task === 'Corsi' && datum.ov"}],
               "mark": {"type": "point", "filled": true, "shape": "circle", "size": 50, "opacity": 1, "fill": "#c8c8c8", "stroke": "#8c8c8c", "strokeWidth": 1}},
              {"data": {"name": "fits"}, "transform": [{"filter": "datum.task === 'Corsi'"}],
               "mark": {"type": "line", "strokeWidth": 2.5, "strokeCap": "butt"},
               "encoding": {"detail": {"field": "sex"}, "color": {"condition": {"test": "datum.sex === 'Female'", "value": "#404040"}, "value": "#c0c0c0"}}},
              {"data": {"name": "labels"}, "transform": [{"filter": "datum.task === 'Corsi'"}],
               "mark": {"type": "text", "text": "r", "fontStyle": "italic", "align": "right", "baseline": "middle", "dx": -2, "fontSize": 15, "color": "#1a1a1a"}},
              {"data": {"name": "labels"}, "transform": [{"filter": "datum.task === 'Corsi'"}],
               "mark": {"type": "text", "align": "left", "baseline": "middle", "dx": 2, "fontSize": 15, "color": "#1a1a1a"},
               "encoding": {"text": {"field": "stat"}}}
            ]
          }
        ]
      },
      {
        "spacing": 5.6,
        "resolve": {"scale": {"x": "independent", "y": "independent", "color": "independent", "shape": "independent"}, "axis": {"x": "independent", "y": "independent"}, "legend": {"color": "independent", "shape": "independent"}},
        "hconcat": [
          {
            "bounds": "flush", "spacing": 1,
            "resolve": {"scale": {"x": "independent", "y": "independent", "color": "independent", "shape": "independent"}, "axis": {"x": "independent", "y": "independent"}, "legend": {"color": "independent", "shape": "independent"}},
            "vconcat": [
              {
                "title": {"text": " ", "anchor": "middle", "frame": "group", "dy": 17, "offset": 15.5, "baseline": "middle", "fontSize": 16},
                "data": {"name": "strips"}, "transform": [{"filter": "datum.id === 'B2'"}],
                "width": 218, "height": 27,
                "view": {"fill": "#efefef", "stroke": null},
                "mark": {"type": "text", "align": "center", "baseline": "middle", "fontSize": 15.5, "color": "#1a1a1a"},
                "encoding": {"text": {"field": "label"}, "x": {"datum": 0.5, "type": "quantitative", "scale": {"domain": [0, 1]}, "axis": null}, "y": {"datum": 0.5, "type": "quantitative", "scale": {"domain": [0, 1]}, "axis": null}}
              },
              {
                "width": 218, "height": 169,
                "encoding": {
                  "x": {"field": "baseline", "type": "quantitative", "scale": {"domain": [264.4, 386], "nice": false, "zero": false}, "axis": {"values": [270, 300, 330, 360], "title": "Baseline Performance", "labelPadding": 4, "titleY": 33, "titleBaseline": "middle"}},
                  "y": {"field": "benefit", "type": "quantitative", "scale": {"domain": [-19.2, 13.3], "nice": false, "zero": false}, "axis": {"values": [-10, 0, 10], "title": null}}
                },
                "layer": [
                  {"data": {"name": "points"}, "transform": [{"filter": "datum.task === 'GoNoGo' && !datum.ov"}],
                   "mark": {"type": "point", "filled": true, "size": 50, "opacity": 1},
                   "encoding": {"color": {"condition": {"test": "datum.sex === 'Female'", "value": "#3d3d3d"}, "value": "#c4c4c4"}, "shape": {"condition": {"test": "datum.sex === 'Female'", "value": "circle"}, "value": "triangle-up"}}},
                  {"data": {"name": "fits"}, "transform": [{"filter": "datum.task === 'GoNoGo'"}],
                   "mark": {"type": "line", "strokeWidth": 2.5, "strokeCap": "butt"},
                   "encoding": {"detail": {"field": "sex"}, "color": {"condition": {"test": "datum.sex === 'Female'", "value": "#404040"}, "value": "#c0c0c0"}}},
                  {"data": {"name": "labels"}, "transform": [{"filter": "datum.task === 'GoNoGo'"}],
                   "mark": {"type": "text", "text": "r", "fontStyle": "italic", "align": "right", "baseline": "middle", "dx": -2, "fontSize": 15, "color": "#1a1a1a"}},
                  {"data": {"name": "labels"}, "transform": [{"filter": "datum.task === 'GoNoGo'"}],
                   "mark": {"type": "text", "align": "left", "baseline": "middle", "dx": 2, "fontSize": 15, "color": "#1a1a1a"},
                   "encoding": {"text": {"field": "stat"}}}
                ]
              }
            ]
          },
          {
            "bounds": "flush", "spacing": 1,
            "resolve": {"scale": {"x": "independent", "y": "independent", "color": "independent", "shape": "independent"}, "axis": {"x": "independent", "y": "independent"}, "legend": {"color": "independent", "shape": "independent"}},
            "vconcat": [
              {
                "title": {"text": " ", "anchor": "middle", "frame": "group", "dy": 17, "offset": 15.5, "baseline": "middle", "fontSize": 16},
                "data": {"name": "strips"}, "transform": [{"filter": "datum.id === 'B3'"}],
                "width": 210, "height": 27,
                "view": {"fill": "#efefef", "stroke": null},
                "mark": {"type": "text", "align": "center", "baseline": "middle", "fontSize": 15.5, "color": "#1a1a1a"},
                "encoding": {"text": {"field": "label"}, "x": {"datum": 0.5, "type": "quantitative", "scale": {"domain": [0, 1]}, "axis": null}, "y": {"datum": 0.5, "type": "quantitative", "scale": {"domain": [0, 1]}, "axis": null}}
              },
              {
                "width": 210, "height": 169,
                "encoding": {
                  "x": {"field": "baseline", "type": "quantitative", "scale": {"domain": [2.4, 15.6], "nice": false, "zero": false}, "axis": {"values": [4, 8, 12], "title": null, "labelPadding": 4}},
                  "y": {"field": "benefit", "type": "quantitative", "scale": {"domain": [-62, 247], "nice": false, "zero": false}, "axis": {"values": [-50, 0, 50, 100, 150, 200], "title": null}}
                },
                "layer": [
                  {"data": {"name": "points"}, "transform": [{"filter": "datum.task === 'Verbal' && !datum.ov"}],
                   "mark": {"type": "point", "filled": true, "size": 50, "opacity": 1},
                   "encoding": {"color": {"condition": {"test": "datum.sex === 'Female'", "value": "#3d3d3d"}, "value": "#c4c4c4"}, "shape": {"condition": {"test": "datum.sex === 'Female'", "value": "circle"}, "value": "triangle-up"}}},
                  {"data": {"name": "points"}, "transform": [{"filter": "datum.task === 'Verbal' && datum.ov"}],
                   "mark": {"type": "point", "filled": true, "shape": "circle", "size": 50, "opacity": 1, "fill": "#c8c8c8", "stroke": "#8c8c8c", "strokeWidth": 1}},
                  {"data": {"name": "fits"}, "transform": [{"filter": "datum.task === 'Verbal'"}],
                   "mark": {"type": "line", "strokeWidth": 2.5, "strokeCap": "butt"},
                   "encoding": {"detail": {"field": "sex"}, "color": {"condition": {"test": "datum.sex === 'Female'", "value": "#404040"}, "value": "#c0c0c0"}}},
                  {"data": {"name": "labels"}, "transform": [{"filter": "datum.task === 'Verbal'"}],
                   "mark": {"type": "text", "text": "r", "fontStyle": "italic", "align": "right", "baseline": "middle", "dx": -2, "fontSize": 15, "color": "#1a1a1a"}},
                  {"data": {"name": "labels"}, "transform": [{"filter": "datum.task === 'Verbal'"}],
                   "mark": {"type": "text", "align": "left", "baseline": "middle", "dx": 2, "fontSize": 15, "color": "#1a1a1a"},
                   "encoding": {"text": {"field": "stat"}}},
                  {"data": {"name": "fits"}, "transform": [{"filter": "datum.task === 'Verbal'"}],
                   "mark": {"type": "point", "filled": true, "opacity": 0},
                   "encoding": {
                     "color": {"field": "sex", "type": "nominal", "scale": {"domain": ["Female", "Male"], "range": ["#404040", "#c4c4c4"]},
                       "legend": {"title": "Sex", "orient": "none", "legendX": 215, "legendY": 51, "symbolSize": 324, "symbolOpacity": 1, "symbolStrokeWidth": 0, "rowPadding": 1, "titlePadding": 3, "labelOffset": 4}},
                     "shape": {"field": "sex", "type": "nominal", "scale": {"domain": ["Female", "Male"], "range": ["M-1,-0.07H1V0.07H-1Z M0.4,0A0.4,0.4 0 1 1 -0.4,0A0.4,0.4 0 1 1 0.4,0Z", "M-1,-0.07H1V0.07H-1Z M0,-0.42L0.42,0.3H-0.42Z"]},
                       "legend": {"title": "Sex", "orient": "none", "legendX": 215, "legendY": 51, "symbolSize": 324, "symbolOpacity": 1, "symbolStrokeWidth": 0, "rowPadding": 1, "titlePadding": 3, "labelOffset": 4}}
                   }}
                ]
              }
            ]
          }
        ]
      }
    ]
  }
]
}
